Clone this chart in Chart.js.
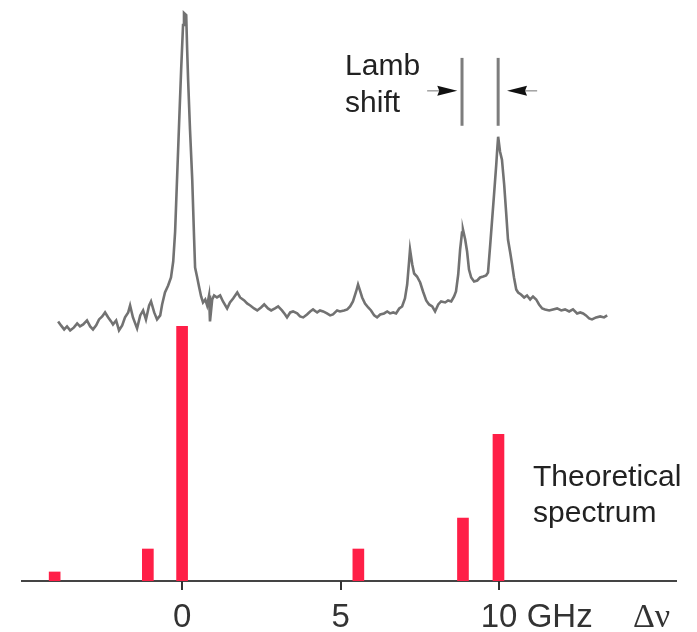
<!DOCTYPE html>
<html>
<head>
<meta charset="utf-8">
<script src="https://cdn.jsdelivr.net/npm/chart.js@4.4.1/dist/chart.umd.min.js"></script>
<style>
  html, body { margin: 0; padding: 0; background: #ffffff; }
  #wrap { width: 697px; height: 632px; position: relative; }
</style>
</head>
<body>
<div id="wrap"><canvas id="c" width="697" height="632"></canvas></div>
<script>
// ---- Data (frequency offset Δν in GHz, intensity in arbitrary units) ----
const measuredFreq = [
  -3.91,-3.82,-3.72,-3.63,-3.53,-3.41,-3.31,-3.22,-3.12,-3.00,-2.90,-2.81,-2.71,-2.62,-2.52,-2.43,-2.33,-2.24,-2.18,-2.08,
  -1.99,-1.89,-1.80,-1.70,-1.64,-1.55,-1.42,-1.32,-1.23,-1.14,-1.04,-0.98,-0.88,-0.79,-0.69,-0.63,-0.54,-0.44,-0.35,-0.28,
  -0.22,-0.16,-0.09,-0.03,0.03,0.06,0.13,0.16,0.19,0.25,0.32,0.38,0.41,0.47,0.54,0.60,0.66,0.73,0.79,0.85,
  0.88,0.95,1.01,1.10,1.20,1.29,1.42,1.51,1.61,1.74,1.83,1.96,2.05,2.15,2.27,2.37,2.49,2.59,2.71,2.81,
  2.93,3.03,3.15,3.25,3.31,3.41,3.50,3.63,3.72,3.82,3.94,4.04,4.13,4.26,4.35,4.45,4.57,4.67,4.76,4.89,
  4.98,5.11,5.21,5.30,5.39,5.49,5.55,5.62,5.68,5.77,5.87,5.96,6.06,6.15,6.25,6.37,6.47,6.56,6.66,6.75,
  6.85,6.94,7.03,7.10,7.16,7.19,7.26,7.32,7.41,7.51,7.60,7.70,7.79,7.89,7.98,8.08,8.17,8.30,8.39,8.49,
  8.58,8.64,8.71,8.77,8.83,8.86,8.93,8.99,9.05,9.12,9.21,9.31,9.40,9.50,9.59,9.65,9.72,9.78,9.84,9.91,
  9.94,9.97,10.03,10.09,10.16,10.22,10.28,10.35,10.41,10.47,10.54,10.60,10.69,10.79,10.88,10.98,11.07,11.17,11.26,11.36,
  11.45,11.58,11.70,11.83,11.96,12.08,12.21,12.33,12.46,12.56,12.65,12.74,12.84,12.93,13.06,13.19,13.31,13.41
];
const measuredIntensity = [
  260,256,252,255,251,254,258,255,257,261,255,252,256,262,265,269,264,260,257,261,
  251,256,264,269,276,264,253,266,271,262,276,280,269,262,266,277,289,296,304,320,
  350,402,462,512,557,569,567,532,502,452,402,342,314,305,294,285,279,282,276,286,
  260,282,286,284,286,280,273,279,283,289,284,281,278,276,273,271,274,277,273,271,
  273,275,271,267,264,269,270,268,265,264,267,270,272,269,271,270,268,266,267,271,
  270,271,272,275,280,290,297,290,284,278,274,271,266,264,267,268,270,268,269,268,
  273,275,283,297,320,332,317,308,305,299,290,281,277,275,270,277,280,279,281,280,
  285,290,307,332,349,352,342,330,312,304,300,301,304,305,306,309,337,362,387,417,
  432,445,430,422,397,370,342,329,317,304,292,289,287,284,286,282,285,282,277,273,
  272,271,272,273,271,272,270,272,268,269,268,266,263,262,264,265,264,266
];

const theoryFreq      = [-4.02, -1.08, 0.00, 5.56, 8.86, 9.98];
const theoryIntensity = [9, 32, 255, 32, 63, 147];

const xTickValues = [0, 5, 10];
const xTickLabels = ['0', '5', '10'];
const xUnitLabel  = 'GHz';
const xAxisSymbol = 'Δν';

const lambLineFreq  = [8.83, 9.97];
const lambLineRange = [456, 524];
const lambArrowFrom = [7.73, 11.20];
const lambArrowTo   = [8.68, 10.25];
const lambArrowLevel = 491;

const lambLabelLines   = ['Lamb', 'shift'];
const theoryLabelLines = ['Theoretical', 'spectrum'];

// ---- Build datasets from the arrays ----
const spectrumPoints = measuredFreq.map((f, i) => ({ x: f, y: measuredIntensity[i] }));
const theoryPoints   = theoryFreq.map((f, i) => ({ x: f, y: theoryIntensity[i] }));
const lambDatasets = lambLineFreq.map(f => ({
  type: 'line',
  data: [{ x: f, y: lambLineRange[0] }, { x: f, y: lambLineRange[1] }],
  borderColor: '#7d7d7d',
  borderWidth: 3,
  pointRadius: 0,
  borderCapStyle: 'butt'
}));

const annotations = {
  id: 'annotations',
  afterDraw(chart) {
    const { ctx } = chart;
    const xs = chart.scales.x, ys = chart.scales.y;
    const bottom = chart.chartArea.bottom;
    ctx.save();

    // Tick marks under the axis at the tick values
    ctx.strokeStyle = '#333';
    ctx.lineWidth = 2;
    xTickValues.forEach(v => {
      const px = Math.round(xs.getPixelForValue(v));
      ctx.beginPath();
      ctx.moveTo(px, bottom);
      ctx.lineTo(px, bottom + 9);
      ctx.stroke();
    });

    // Lamb shift arrows
    lambArrowFrom.forEach((from, i) => {
      const x0 = xs.getPixelForValue(from);
      const x1 = xs.getPixelForValue(lambArrowTo[i]);
      const yy = ys.getPixelForValue(lambArrowLevel);
      const d = Math.sign(x1 - x0);
      ctx.strokeStyle = '#8a8a8a';
      ctx.lineWidth = 1.2;
      ctx.beginPath();
      ctx.moveTo(x0, yy);
      ctx.lineTo(x1 - d * 16, yy);
      ctx.stroke();
      ctx.fillStyle = '#111';
      ctx.beginPath();
      ctx.moveTo(x1, yy);
      ctx.lineTo(x1 - d * 20, yy - 5);
      ctx.lineTo(x1 - d * 18, yy);
      ctx.lineTo(x1 - d * 20, yy + 5);
      ctx.closePath();
      ctx.fill();
    });

    // Text annotations
    ctx.fillStyle = '#222';
    ctx.font = '30px "Liberation Sans", Arial, sans-serif';
    ctx.textAlign = 'left';
    ctx.textBaseline = 'alphabetic';
    const lambX = xs.getPixelForValue(5.14);
    const lambY = ys.getPixelForValue(507);
    lambLabelLines.forEach((t, i) => ctx.fillText(t, lambX, lambY + i * 37));
    const thX = xs.getPixelForValue(11.07);
    const thY = ys.getPixelForValue(95);
    theoryLabelLines.forEach((t, i) => ctx.fillText(t, thX, thY + i * 36));

    // Unit and symbol on the x axis
    ctx.fillStyle = '#333';
    ctx.font = '33px "Liberation Sans", Arial, sans-serif';
    const baseY = bottom + 46;
    const tenX = xs.getPixelForValue(10);
    const tenW = ctx.measureText(xTickLabels[2]).width;
    ctx.fillText(' ' + xUnitLabel, tenX + tenW / 2, baseY);
    ctx.font = '34px "Liberation Serif", "DejaVu Serif", serif';
    ctx.fillText(xAxisSymbol, 633, baseY);
    ctx.restore();
  }
};

new Chart(document.getElementById('c'), {
  type: 'bar',
  data: {
    datasets: [
      {
        type: 'line',
        data: spectrumPoints,
        borderColor: '#727272',
        borderWidth: 2.6,
        pointRadius: 0,
        tension: 0
      },
      ...lambDatasets,
      {
        type: 'bar',
        data: theoryPoints,
        backgroundColor: '#ff1f47',
        borderWidth: 0,
        barThickness: 11,
        grouped: false
      }
    ]
  },
  options: {
    responsive: false,
    animation: false,
    events: [],
    layout: { padding: { left: 22, right: 21, top: 0, bottom: -14 } },
    plugins: { legend: { display: false }, tooltip: { enabled: false }, title: { display: false } },
    scales: {
      x: {
        type: 'linear',
        min: -5.05,
        max: 15.58,
        offset: false,
        afterBuildTicks: (scale) => { scale.ticks = xTickValues.map(v => ({ value: v })); },
        ticks: {
          autoSkip: false,
          maxRotation: 0,
          padding: 14,
          color: '#333',
          font: { family: '"Liberation Sans", Arial, sans-serif', size: 33, lineHeight: 0.85 },
          callback: (v) => { const i = xTickValues.indexOf(v); return i >= 0 ? xTickLabels[i] : ''; }
        },
        grid: { display: true, offset: false, drawOnChartArea: false, drawTicks: true, tickLength: 9, tickColor: 'rgba(0,0,0,0)', color: 'rgba(0,0,0,0)' },
        border: { display: true, color: '#444', width: 2 }
      },
      y: {
        display: false,
        min: 0,
        max: 582
      }
    }
  },
  plugins: [annotations]
});
</script>
</body>
</html>
